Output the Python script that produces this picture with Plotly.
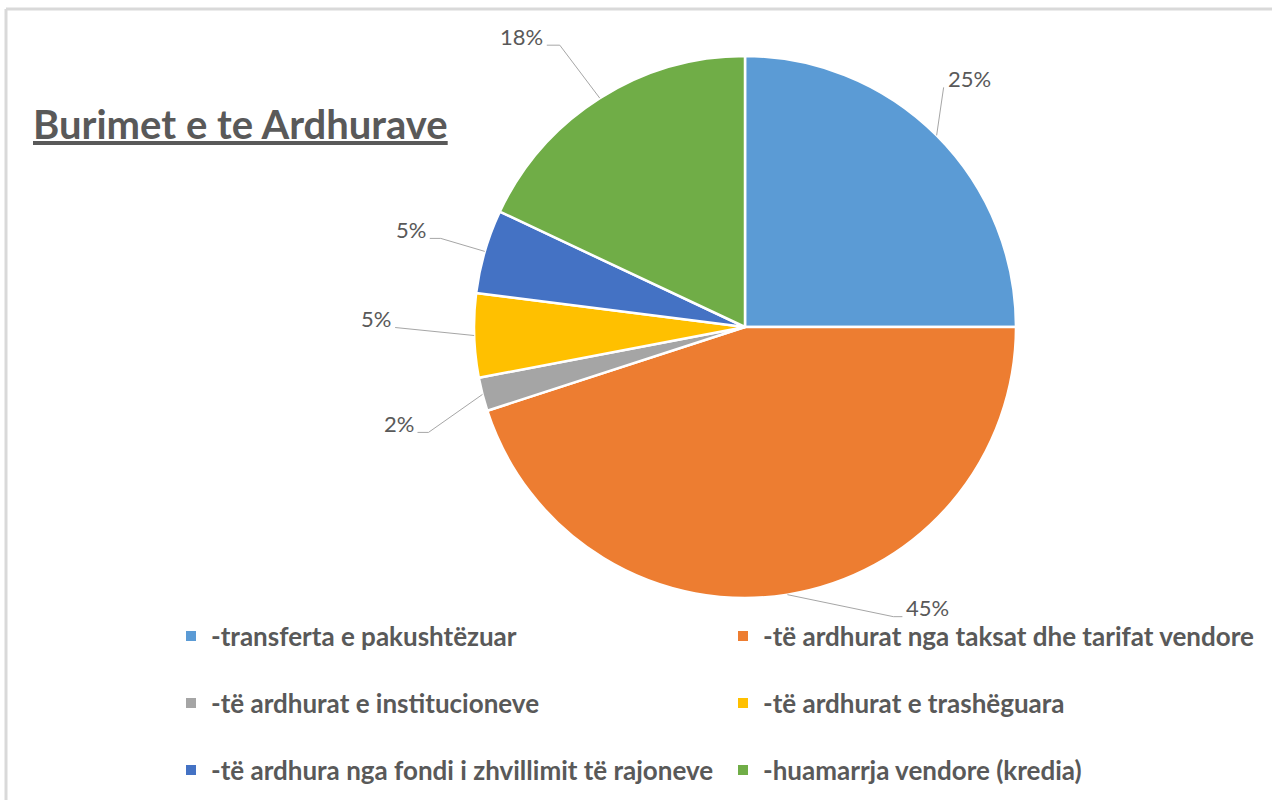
import math
import plotly.graph_objects as go

# Revenue sources and their shares (percent)
categories = [
    "-transferta e pakushtëzuar",
    "-të ardhurat nga taksat dhe tarifat vendore",
    "-të ardhurat e institucioneve",
    "-të ardhurat e trashëguara",
    "-të ardhura nga fondi i zhvillimit të rajoneve",
    "-huamarrja vendore (kredia)",
]
shares = [25, 45, 2, 5, 5, 18]
colors = ["#5B9BD5", "#ED7D31", "#A5A5A5", "#FFC000", "#4472C4", "#70AD47"]
title_text = "Burimet e te Ardhurave"

# ---- page geometry (pixels) ----
W, H = 1272, 800
CX, CY, R = 745, 327, 271          # pie centre and radius

# label placement per slice: (elbow dx, elbow dy from slice edge, horizontal tail, side)
label_layout = [
    (7, -48, 0, "right"),
    (106, 22, 9, "right"),
    (-54, 38, -11, "left"),
    (-79, -8, 0, "left"),
    (-44, -13, -11, "left"),
    (-40, -53, -13, "left"),
]

TEXT = "#595959"
LEADER = "#A6A6A6"
FONT = "Lato"


def px(x):
    return x / W


def py(y):
    return 1 - y / H


fig = go.Figure()

fig.add_trace(go.Pie(
    labels=categories,
    values=shares,
    sort=False,
    direction="clockwise",
    rotation=0,
    marker=dict(colors=colors, line=dict(color="white", width=2.5)),
    textinfo="none",
    hoverinfo="label+percent",
    showlegend=False,
    domain=dict(x=[px(CX - R), px(CX + R)], y=[py(CY + R), py(CY - R)]),
))

# legend entries (one legend per row, two entries each)
legend_names = ["legend", "legend2", "legend3"]
for i, (name, col) in enumerate(zip(categories, colors)):
    fig.add_trace(go.Scatter(
        x=[None], y=[None], mode="markers", name=name,
        marker=dict(symbol="square", size=10, color=col),
        legend=legend_names[i // 2], hoverinfo="skip",
    ))

# data labels with leader lines, placed from each slice's mid angle
total = sum(shares)
shapes = []
annotations = []
start = 0.0
for v, (ex, ey, tail, side) in zip(shares, label_layout):
    frac = v / total
    mid = (start + frac / 2) * 2 * math.pi
    start += frac
    x0 = CX + R * math.sin(mid)
    y0 = CY - R * math.cos(mid)
    x1, y1 = x0 + ex, y0 + ey
    x2 = x1 + tail
    path = f"M {px(x0)},{py(y0)} L {px(x1)},{py(y1)} L {px(x2)},{py(y1)}"
    shapes.append(dict(type="path", path=path, xref="paper", yref="paper",
                       line=dict(color=LEADER, width=1)))
    pct = f"{round(frac * 100)}%"
    if side == "right":
        tx, anchor = x2 + 3, "left"
    else:
        tx, anchor = x2 - 3, "right"
    annotations.append(dict(x=px(tx), y=py(y1 - 9), text=pct, showarrow=False,
                            xanchor=anchor, yanchor="middle", xref="paper", yref="paper",
                            borderpad=0,
                            font=dict(size=22, color=TEXT, family=FONT)))

# chart title
annotations.append(dict(x=px(31), y=py(124), text=f"<b><u>{title_text}</u></b>", showarrow=False,
                        xanchor="left", yanchor="middle", xref="paper", yref="paper",
                        font=dict(size=40, color=TEXT, family=FONT)))

# frame edges
shapes.append(dict(type="line", xref="paper", yref="paper", x0=px(6), x1=1, y0=py(9), y1=py(9),
                   line=dict(color="#D9D9D9", width=3)))
shapes.append(dict(type="line", xref="paper", yref="paper", x0=px(6), x1=px(6), y0=0, y1=py(9),
                   line=dict(color="#D9D9D9", width=3)))

legend_style = dict(orientation="h", x=px(171), xanchor="left", yanchor="middle",
                    entrywidth=507, entrywidthmode="pixels", itemwidth=30,
                    bgcolor="rgba(0,0,0,0)", borderwidth=0,
                    font=dict(size=26, color=TEXT, family=FONT, weight="bold"))

fig.update_layout(
    width=W, height=H,
    margin=dict(l=0, r=0, t=0, b=0, autoexpand=False),
    paper_bgcolor="white", plot_bgcolor="white",
    xaxis=dict(visible=False), yaxis=dict(visible=False),
    showlegend=True,
    legend=dict(y=py(636), **legend_style),
    legend2=dict(y=py(703), **legend_style),
    legend3=dict(y=py(770), **legend_style),
    shapes=shapes,
    annotations=annotations,
)

fig.write_html("out.html")
